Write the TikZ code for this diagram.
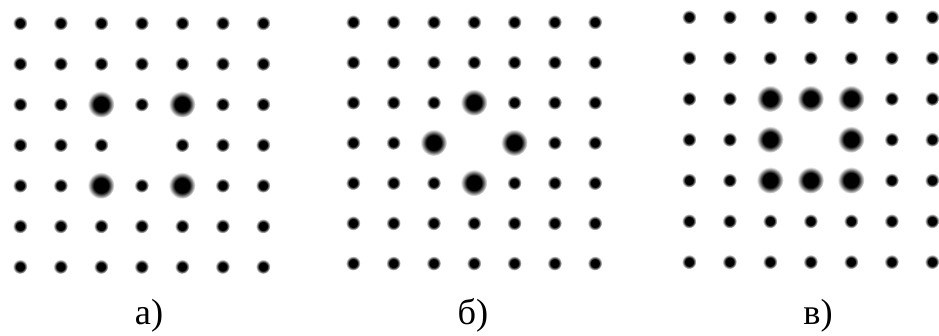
\documentclass[tikz,border=0pt]{standalone}
\usepackage{fontspec}
\setmainfont{Liberation Serif}
\usetikzlibrary{positioning}
\pgfdeclareradialshading{blur}{\pgfpoint{0bp}{0bp}}{color(0bp)=(black); color(14bp)=(black); color(25bp)=(white); color(50bp)=(white)}

\begin{document}
\begin{tikzpicture}[
  x=0.03cm, y=-0.03cm,
  dot/.style={circle, shading=blur, draw=none, inner sep=0pt, minimum size=0.44cm},
  bigdot/.style={dot, minimum size=0.80cm},
  lbl/.style={anchor=base, font=\fontsize{31}{36}\selectfont},
]
\useasboundingbox (0,0) rectangle (939,336);

% ---- panel a: big dots on the diagonals ----
\foreach \r in {1,...,7}
  \foreach \c in {1,...,7} {
    \pgfmathtruncatemacro\dd{abs(\r-4)+abs(\c-4)}
    \pgfmathtruncatemacro\dm{max(abs(\r-4),abs(\c-4))}
    \def\kind{dot}
    \ifnum\dm=1 \ifnum\dd=2 \def\kind{bigdot}\fi\fi
    \ifnum\dd>0
      \node[\kind] (a-\r-\c) at ({20+40.5*(\c-1)},{23+40.6*(\r-1)}) {};
    \fi
  }

% ---- panel b: big dots on the cross ----
\foreach \r in {1,...,7}
  \foreach \c in {1,...,7} {
    \pgfmathtruncatemacro\dd{abs(\r-4)+abs(\c-4)}
    \def\kind{dot}
    \ifnum\dd=1 \def\kind{bigdot}\fi
    \ifnum\dd>0
      \node[\kind] (b-\r-\c) at ({353+40.3*(\c-1)},{22+40.2*(\r-1)}) {};
    \fi
  }

% ---- panel v: big dots on the whole ring ----
\foreach \r in {1,...,7}
  \foreach \c in {1,...,7} {
    \pgfmathtruncatemacro\dd{abs(\r-4)+abs(\c-4)}
    \pgfmathtruncatemacro\dm{max(abs(\r-4),abs(\c-4))}
    \def\kind{dot}
    \ifnum\dm=1 \def\kind{bigdot}\fi
    \ifnum\dd>0
      \node[\kind] (v-\r-\c) at ({689+40.5*(\c-1)},{17+40.8*(\r-1)}) {};
    \fi
  }

% ---- captions ----
\node[lbl] (la) at (149,324) {а)};
\node[lbl] (lb) at (473,324) {б)};
\node[lbl] (lv) at (818,324) {в)};

\end{tikzpicture}
\end{document}
